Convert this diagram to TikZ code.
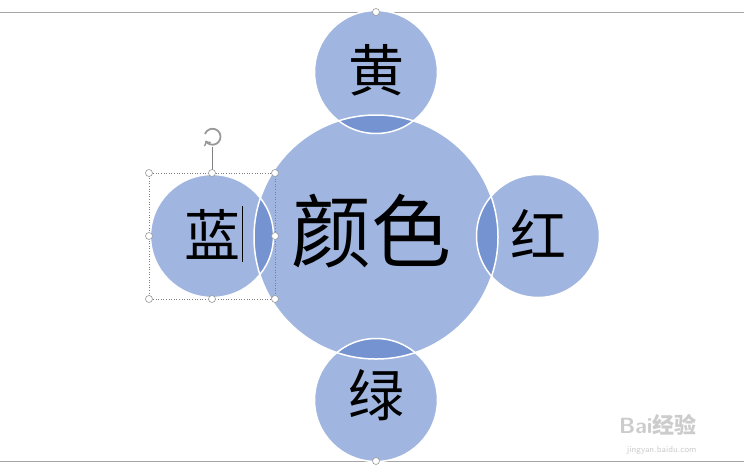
\documentclass[tikz,border=0pt]{standalone}
\usepackage{fontspec}
\newfontfamily\cjk{Noto Sans CJK SC}
\begin{document}
\begin{tikzpicture}[x=1pt,y=-1pt,
  ring/.style={draw=white,line width=1.5pt},
  big/.style={font=\cjk\fontsize{80}{90}\selectfont},
  small/.style={font=\cjk\fontsize{56}{60}\selectfont},
  handle/.style={circle,draw=gray!80,fill=white,line width=0.6pt,inner sep=0pt,minimum size=7pt}]
\definecolor{cfill}{RGB}{160,182,224}
\definecolor{cdark}{RGB}{116,147,208}
\useasboundingbox (0,0) rectangle (744,475);
\fill[white] (0,0) rectangle (744,475);
\draw[gray!70,line width=0.6pt] (0,12) -- (744,12);
\draw[gray!70,line width=0.6pt] (0,461) -- (744,461);
\coordinate (C) at (376,237);
\coordinate (T) at (376,72);
\coordinate (B) at (376,400);
\coordinate (L) at (212,236);
\coordinate (R) at (538,236);
\fill[cfill] (C) circle (122);
\foreach \p in {T,B,L,R}{ \fill[cfill] (\p) circle (61.5); }
\foreach \p in {T,B,L,R}{
  \begin{scope}\clip (C) circle (122); \fill[cdark] (\p) circle (61.5); \end{scope}}
\draw[ring] (C) circle (122);
\foreach \p in {T,B,L,R}{ \draw[ring] (\p) circle (61.5); }
\node[big] (tc) at (371,231) {颜色};
\node[small] (tt) at (376,70) {黄};
\node[small] (tb) at (376,395) {绿};
\node[small] (tl) at (212,234) {蓝};
\node[small] (tr) at (538,234) {红};
\draw[black,line width=0.6pt] (242,206) -- (242,262);
% selection box
\draw[gray,dotted,line width=0.6pt] (149,173) rectangle (275,299);
\draw[gray,line width=0.6pt] (212,147) -- (212,173);
\draw[gray!80,line width=1.8pt,->] (205,134) arc (200:510:8);
\foreach \x/\y [count=\i] in {149/173,212/173,275/173,149/236,275/236,149/299,212/299,275/299,376/12,376/461}
  \node[handle] (h\i) at (\x,\y) {};
\node[gray!40,font=\sffamily\bfseries\fontsize{22}{24}\selectfont,anchor=east] (wm) at (700,425) {Bai\cjk 经验};
\node[gray!40,font=\sffamily\fontsize{9}{10}\selectfont,anchor=east] (wm2) at (700,450) {jingyan.baidu.com};
\end{tikzpicture}
\end{document}
